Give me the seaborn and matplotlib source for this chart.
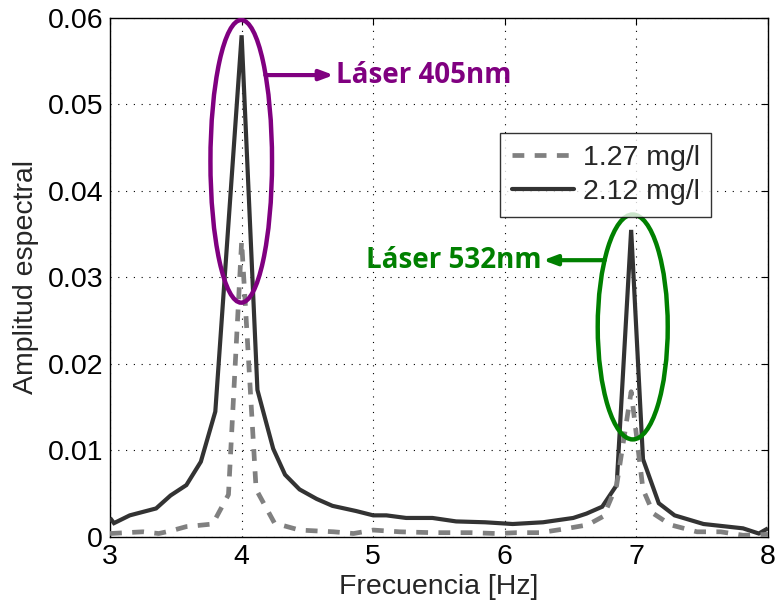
import matplotlib
matplotlib.use("Agg")
import matplotlib.pyplot as plt
from matplotlib.patches import Ellipse
from matplotlib.lines import Line2D
import seaborn as sns
import pandas as pd

# ---- data ----
freq_212 = [3.00, 3.03, 3.15, 3.35, 3.46, 3.58, 3.69, 3.80, 4.00, 4.12, 4.24, 4.33,
            4.44, 4.57, 4.69, 4.87, 5.00, 5.10, 5.25, 5.45, 5.63, 5.85, 6.06, 6.29,
            6.52, 6.62, 6.74, 6.85, 6.96, 7.05, 7.17, 7.29, 7.51, 7.81, 7.93, 8.00]
amp_212 = [0.0022, 0.0016, 0.0025, 0.0033, 0.0048, 0.0060, 0.0087, 0.0145, 0.0580, 0.0170, 0.0102, 0.0072,
           0.0055, 0.0044, 0.0036, 0.0030, 0.0025, 0.0025, 0.0022, 0.0022, 0.0018, 0.0017, 0.0015, 0.0017,
           0.0022, 0.0027, 0.0035, 0.0060, 0.0355, 0.0090, 0.0039, 0.0025, 0.0015, 0.0010, 0.0004, 0.0010]

freq_127 = [3.00, 3.25, 3.37, 3.46, 3.58, 3.78, 3.90, 4.00, 4.11, 4.25, 4.44, 4.70,
            4.85, 5.00, 5.20, 5.45, 5.74, 5.94, 6.09, 6.27, 6.44, 6.63, 6.75, 6.85,
            6.96, 7.05, 7.13, 7.26, 7.46, 7.64, 7.81, 8.00]
amp_127 = [0.0004, 0.0006, 0.0004, 0.0007, 0.0012, 0.0015, 0.0049, 0.0342, 0.0055, 0.0016, 0.0008, 0.0006,
           0.0004, 0.0008, 0.0006, 0.0005, 0.0005, 0.0004, 0.0005, 0.0005, 0.0009, 0.0014, 0.0024, 0.0060,
           0.0168, 0.0055, 0.0027, 0.0014, 0.0006, 0.0006, 0.0002, 0.0003]

series_labels = ["1.27 mg/l", "2.12 mg/l"]
x_ticks = [3, 4, 5, 6, 7, 8]
y_ticks = [0, 0.01, 0.02, 0.03, 0.04, 0.05, 0.06]
y_ticklabels = ["0", "0.01", "0.02", "0.03", "0.04", "0.05", "0.06"]
x_label = "Frecuencia [Hz]"
y_label = "Amplitud espectral"
note_405 = "Láser 405nm"
note_532 = "Láser 532nm"

df212 = pd.DataFrame({"f": freq_212, "a": amp_212})
df127 = pd.DataFrame({"f": freq_127, "a": amp_127})

sns.set_style("white")
plt.rcParams["font.family"] = ["Liberation Sans", "DejaVu Sans"]

fig = plt.figure(figsize=(7.76, 6.08), dpi=100)
ax = fig.add_axes([0.1418, 0.1168, 0.8479, 0.8536])

dark = "#333333"
gray = "#808080"
sns.lineplot(data=df212, x="f", y="a", ax=ax, color=dark, linewidth=3.0,
             estimator=None, sort=False, zorder=3)
sns.lineplot(data=df127, x="f", y="a", ax=ax, color=gray, linewidth=3.4,
             linestyle=(0, (2.5, 2.2)), estimator=None, sort=False, zorder=4)
for ln in ax.lines:
    ln.set_solid_capstyle("butt")
    ln.set_dash_capstyle("butt")
    ln.set_solid_joinstyle("miter")

fs = 20.5
ax.set_xlim(3, 8)
ax.set_ylim(0, 0.06)
ax.set_xticks(x_ticks)
ax.set_xticklabels([str(t) for t in x_ticks])
ax.set_yticks(y_ticks)
ax.set_yticklabels(y_ticklabels)
ax.tick_params(direction="in", length=5, width=0.8, top=True, right=True,
               labelsize=fs, pad=5, colors="black")
ax.set_xlabel(x_label, fontsize=fs, labelpad=3)
ax.set_ylabel(y_label, fontsize=fs, labelpad=6)
ax.grid(True, color="black", linestyle=(0, (1, 6)), linewidth=0.8)
for s in ax.spines.values():
    s.set_color("black")
    s.set_linewidth(1.0)
    s.set_visible(True)

# ellipses
purple = "#800080"
green = "#008000"
ax.add_patch(Ellipse((3.997, 0.04343), 0.468, 0.03268, fill=False,
                     edgecolor=purple, linewidth=3.2, zorder=5))
ax.add_patch(Ellipse((6.972, 0.02428), 0.532, 0.0260, fill=False,
                     edgecolor=green, linewidth=3.2, zorder=5))

# arrows + notes
ax.annotate("", xy=(4.70, 0.0534), xytext=(4.18, 0.0534),
            arrowprops=dict(arrowstyle="-|>,head_length=0.8,head_width=0.3",
                            color=purple, lw=3, shrinkA=0, shrinkB=0), zorder=5)
ax.text(4.72, 0.0533, note_405, color=purple, fontsize=20, fontweight="bold",
        family=["Open Sans", "DejaVu Sans"], va="center", ha="left", zorder=6)
ax.annotate("", xy=(6.29, 0.0320), xytext=(6.76, 0.0320),
            arrowprops=dict(arrowstyle="-|>,head_length=0.8,head_width=0.3",
                            color=green, lw=3, shrinkA=0, shrinkB=0), zorder=5)
ax.text(6.275, 0.0320, note_532, color=green, fontsize=20, fontweight="bold",
        family=["Open Sans", "DejaVu Sans"], va="center", ha="right", zorder=6)

handles = [Line2D([], [], color=gray, linewidth=3.4, linestyle=(0, (2.5, 2.2)), dash_capstyle="butt"),
           Line2D([], [], color=dark, linewidth=3.0)]
leg = ax.legend(handles, series_labels, loc="upper left", bbox_to_anchor=(0.593, 0.778),
                borderaxespad=0, fontsize=fs, frameon=True, fancybox=False,
                edgecolor="black", handlelength=2.2, handletextpad=0.3,
                borderpad=0.4, labelspacing=0.3)
leg.get_frame().set_linewidth(1.0)
leg.set_zorder(7)

fig.savefig("out.png", dpi=100, facecolor="white")
